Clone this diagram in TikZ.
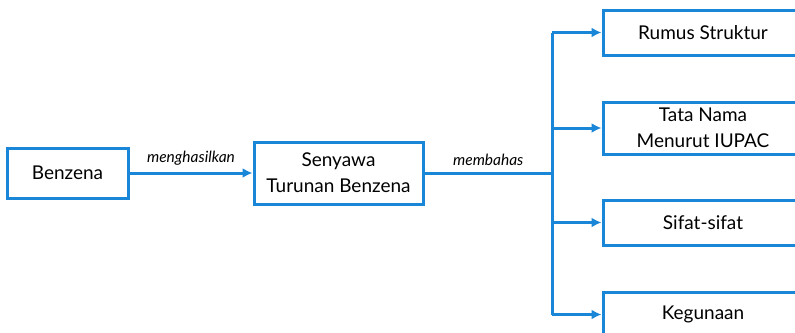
\documentclass[tikz,border=0pt]{standalone}
\usepackage{fontspec}
\setmainfont{Lato}
\usetikzlibrary{arrows.meta,calc}
\definecolor{biru}{RGB}{26,134,216}

\begin{document}
\begin{tikzpicture}[x=1pt,y=-1pt,
	kotak/.style={draw=biru,line width=3pt,inner sep=0pt,align=center,
		font=\fontsize{19}{26}\selectfont},
	garis/.style={draw=biru,line width=3pt},
	panah/.style={garis,-{Latex[length=10pt,width=10pt]}},
	ket/.style={font=\fontsize{15.5}{17}\selectfont\itshape,above=3pt}]
			\useasboundingbox (0,0) rectangle (795,332);
			\clip (0,0) rectangle (795,332);
			\node[kotak,minimum width=121pt,minimum height=50pt] (benzena) at (67.5,173) {Benzena};
			\node[kotak,minimum width=169pt,minimum height=62pt] (senyawa) at (338.5,173) {Senyawa\\Turunan Benzena};
			\node[kotak,minimum width=200pt,minimum height=45pt] (rumus) at (703,32.5) {Rumus Struktur};
			\node[kotak,minimum width=200pt,minimum height=52pt] (tatanama) at (703,128) {Tata Nama\\Menurut IUPAC};
			\node[kotak,minimum width=200pt,minimum height=45pt] (sifat) at (703,222.5) {Sifat-sifat};
			\node[kotak,minimum width=200pt,minimum height=45pt] (kegunaan) at (703,314.5) {Kegunaan};
			\coordinate (cabang) at (552,173);
			\draw[panah] (benzena) -- (senyawa) node[midway,ket]{menghasilkan};
			\draw[garis] (senyawa.east) -- (cabang) node[midway,ket]{membahas};
			\draw[garis] (cabang |- rumus.west) -- (cabang |- kegunaan.west);
			\foreach \n in {rumus,tatanama,sifat,kegunaan}
				\draw[panah] (cabang |- \n.west) -- (\n.west);
		\end{tikzpicture}
\end{document}
